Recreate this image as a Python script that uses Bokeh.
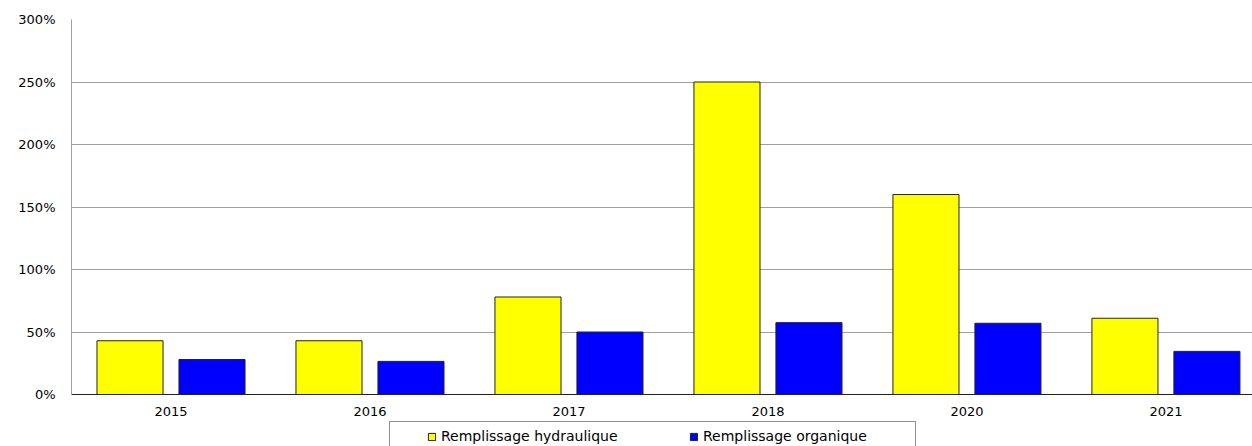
import numpy as np
from bokeh.plotting import figure
from bokeh.models import (NumeralTickFormatter, Legend, LegendItem, ColumnDataSource,
                          FixedTicker, Span, Range1d)
from bokeh.core.properties import value
from bokeh.transform import dodge
from bokeh.embed import file_html
from bokeh.resources import INLINE

years = ["2015", "2016", "2017", "2018", "2020", "2021"]
hydraulique = [0.43, 0.43, 0.78, 2.50, 1.60, 0.61]
organique = [0.28, 0.265, 0.50, 0.575, 0.57, 0.345]
labels = ["Remplissage hydraulique", "Remplissage organique"]
colors = ["#FFFF00", "#0000FF"]
y_ticks = [0, 0.5, 1.0, 1.5, 2.0, 2.5, 3.0]

# category slots: each year sits in the middle of a unit-wide slot
xpos = np.arange(len(years)) + 0.5
src = ColumnDataSource(dict(years=years, x=xpos, h=hydraulique, o=organique,
                            zero=[0] * len(years)))

# the last slot runs past the right edge of the picture, as in the original
p = figure(x_range=Range1d(0, 5.935), y_range=Range1d(-0.416, 3.0),
           width=1252, height=446, output_backend="svg", toolbar_location=None,
           x_axis_location=None,
           min_border_left=71, min_border_right=0, min_border_top=19, min_border_bottom=0)

r1 = p.vbar(x=dodge("x", -0.206), top="h", width=0.332, source=src,
            fill_color=colors[0], line_color="#222222", line_width=1)
r2 = p.vbar(x=dodge("x", 0.206), top="o", width=0.332, source=src,
            fill_color=colors[1], line_color="#222222", line_width=1)

p.outline_line_color = None
p.xgrid.grid_line_color = None
p.ygrid.grid_line_color = "#a0a0a0"
p.ygrid.grid_line_width = 1
p.ygrid.ticker = FixedTicker(ticks=y_ticks)

# x axis line at zero and category labels
p.add_layout(Span(location=0, dimension="width", line_color="#222222", line_width=1))
p.text(x="x", y="zero", text="years", source=src, text_align="center",
       text_baseline="middle", y_offset=17, text_font=value("DejaVu Sans"),
       text_font_size="13px", text_color="#000000")

p.yaxis.ticker = FixedTicker(ticks=y_ticks)
p.yaxis.bounds = (0, 3.0)
p.yaxis.formatter = NumeralTickFormatter(format="0%")
p.yaxis.major_tick_line_color = None
p.yaxis.minor_tick_line_color = None
p.yaxis.major_tick_out = 0
p.yaxis.major_tick_in = 0
p.yaxis.major_label_text_font = "DejaVu Sans"
p.yaxis.major_label_text_font_size = "13px"
p.yaxis.major_label_text_color = "#000000"
p.yaxis.axis_line_color = "#a0a0a0"
p.yaxis.major_label_standoff = 16

legend = Legend(items=[LegendItem(label=labels[0], renderers=[r1]),
                       LegendItem(label=labels[1], renderers=[r2])],
                orientation="horizontal", location=(318, -5))
legend.title = " "
legend.title_location = "left"
legend.title_text_font_size = "13px"
legend.title_standoff = 16
legend.glyph_width = 9
legend.glyph_height = 9
legend.label_standoff = 5
legend.label_width = 206
legend.label_height = 12
legend.spacing = 42
legend.padding = 6
legend.margin = 0
legend.border_line_color = "#222222"
legend.label_text_font = "DejaVu Sans"
legend.label_text_font_size = "14px"
legend.label_text_color = "#000000"
legend.background_fill_alpha = 1
p.add_layout(legend, "center")

open("out.html", "w").write(file_html(p, INLINE))
